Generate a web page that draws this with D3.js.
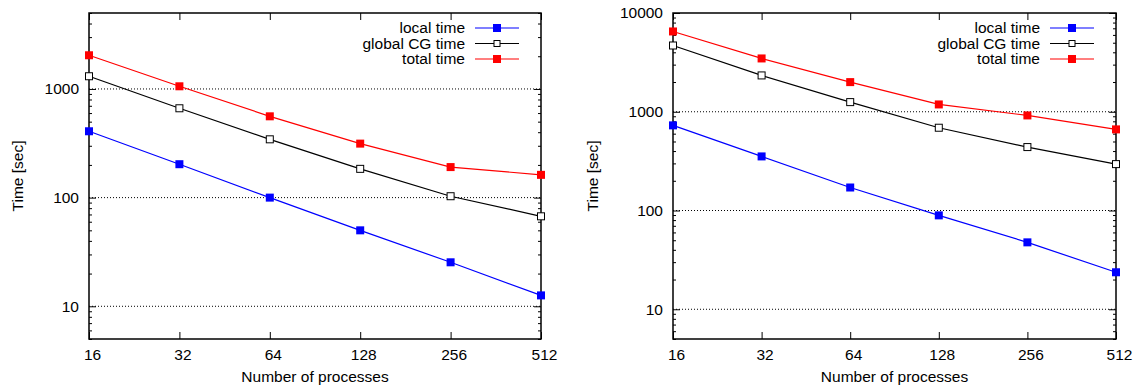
<!DOCTYPE html>
<meta charset="utf-8">
<head>
<title>Time vs processes</title>
<script src="https://d3js.org/d3.v7.min.js"></script>
<style>
body { margin: 0; background: #fff; }
svg text { font-family: "Liberation Sans", Arial, sans-serif; fill: #000; }
.axis path { display: none; }
.axis line { stroke: #000; stroke-width: 1; }
.axis text { font-size: 15.5px; }
.grid line { stroke: #000; stroke-width: 1; stroke-dasharray: 1,2; }
</style>
</head>
<body>
<script>

// processes on the x axis
var procs = [16, 32, 64, 128, 256, 512];

// left panel (seconds)
var localA  = [408, 203, 100, 50, 25.4, 12.6];
var globalA = [1309, 664, 344, 184, 103, 67.3];
var totalA  = [2042, 1058, 560, 314, 191, 162];

// right panel (seconds)
var localB  = [728, 353, 171, 89.3, 47.6, 23.7];
var globalB = [4688, 2333, 1252, 689, 439, 295];
var totalB  = [6502, 3466, 1996, 1186, 918, 663];

var legendNames = ["local time", "global CG time", "total time"];

var svg = d3.select("body").append("svg")
    .attr("width", 1136)
    .attr("height", 387);

function panel(left, right, ymax, labelX, series) {
  var top = 13, bottom = 339;
  var width = right - left, height = bottom - top;

  var x = d3.scaleLog().base(2).domain([16, 512]).range([0, width]);
  var y = d3.scaleLog().domain([5, ymax]).range([height, 0]);

  var g = svg.append("g")
      .attr("transform", "translate(" + left + "," + top + ")");

  // major / minor y values
  var majors = [], minors = [];
  for (var e = 0; e <= 4; e++) {
    var p = Math.pow(10, e);
    for (var m = 1; m <= 9; m++) {
      var v = m * p;
      if (v < 5 || v > ymax) continue;
      if (m == 1) majors.push(v); else minors.push(v);
    }
  }

  // dotted grid
  g.append("g").attr("class", "grid")
    .selectAll("line")
    .data(majors.filter(function(d) { return d < ymax; }))
    .enter().append("line")
      .attr("x1", 0).attr("x2", width)
      .attr("y1", function(d) { return y(d); })
      .attr("y2", function(d) { return y(d); });

  // y axes, ticks inward on both sides
  g.append("g").attr("class", "axis")
    .call(d3.axisLeft(y).tickValues(majors).tickSize(-7).tickPadding(10)
      .tickFormat(d3.format("d")));
  g.append("g").attr("class", "axis")
    .call(d3.axisLeft(y).tickValues(minors).tickSize(-3).tickFormat(""));
  g.append("g").attr("class", "axis")
    .attr("transform", "translate(" + width + ",0)")
    .call(d3.axisRight(y).tickValues(majors).tickSize(-7).tickFormat(""));
  g.append("g").attr("class", "axis")
    .attr("transform", "translate(" + width + ",0)")
    .call(d3.axisRight(y).tickValues(minors).tickSize(-3).tickFormat(""));

  // x axes
  var xb = g.append("g").attr("class", "axis")
    .attr("transform", "translate(0," + height + ")")
    .call(d3.axisBottom(x).tickValues(procs).tickSize(-7).tickPadding(10)
      .tickFormat(d3.format("d")));
  xb.selectAll("text").attr("dx", 3);
  g.append("g").attr("class", "axis")
    .call(d3.axisTop(x).tickValues(procs).tickSize(-7).tickFormat(""));

  // border
  g.append("rect")
    .attr("width", width).attr("height", height)
    .attr("fill", "none").attr("stroke", "#000").attr("stroke-width", 1.5);

  // axis titles
  g.append("text")
    .attr("x", width / 2).attr("y", height + 43)
    .attr("text-anchor", "middle")
    .style("font-size", "15.5px")
    .text("Number of processes");
  svg.append("text")
    .attr("transform", "translate(" + labelX + "," + (top + height / 2) + ") rotate(-90)")
    .attr("text-anchor", "middle")
    .style("font-size", "15.5px")
    .text("Time [sec]");

  var line = d3.line()
    .x(function(d, i) { return x(procs[i]); })
    .y(function(d) { return y(d); });

  series.forEach(function(s, k) {
    g.append("path")
      .datum(s.values)
      .attr("fill", "none")
      .attr("stroke", s.color)
      .attr("stroke-width", 1.2)
      .attr("d", line);

    g.selectAll(".pt" + k)
      .data(s.values)
      .enter().append("rect")
        .attr("x", function(d, i) { return x(procs[i]) - (s.open ? 3.5 : 4); })
        .attr("y", function(d) { return y(d) - (s.open ? 3.5 : 4); })
        .attr("width", s.open ? 7 : 8)
        .attr("height", s.open ? 7 : 8)
        .attr("fill", s.open ? "#fff" : s.color)
        .attr("stroke", s.open ? "#000" : "none");

    // legend entry
    var ly = 15 + k * 15.5;
    g.append("text")
      .attr("x", width - 76).attr("y", ly + 5)
      .attr("text-anchor", "end")
      .style("font-size", "15.5px")
      .text(legendNames[k]);
    g.append("line")
      .attr("x1", width - 66).attr("x2", width - 22)
      .attr("y1", ly).attr("y2", ly)
      .attr("stroke", s.color).attr("stroke-width", 1.2);
    g.append("rect")
      .attr("x", width - 44 - (s.open ? 3 : 4)).attr("y", ly - (s.open ? 3 : 4))
      .attr("width", s.open ? 6 : 8).attr("height", s.open ? 6 : 8)
      .attr("fill", s.open ? "#fff" : s.color)
      .attr("stroke", s.open ? "#000" : "none");
  });
}

panel(89, 541, 5000, 23, [
  {values: localA, color: "#0000ff"},
  {values: globalA, color: "#000000", open: true},
  {values: totalA, color: "#ff0000"}
]);

panel(673, 1116, 10000, 598, [
  {values: localB, color: "#0000ff"},
  {values: globalB, color: "#000000", open: true},
  {values: totalB, color: "#ff0000"}
]);

</script>
</body>
